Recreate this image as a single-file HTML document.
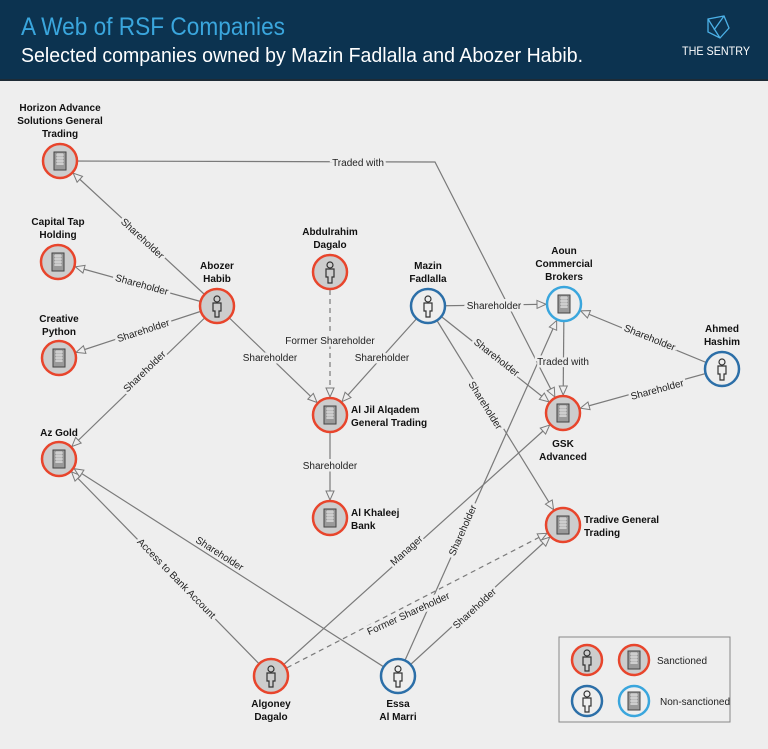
<!DOCTYPE html>
<html><head><meta charset="utf-8"><style>
html,body{margin:0;padding:0;background:#eeeeee;}
svg{display:block;}
.n{font-family:"Liberation Sans Narrow","Liberation Sans",sans-serif;font-weight:bold;font-size:10px;fill:#111;}
.l{font-family:"Liberation Sans Narrow","Liberation Sans",sans-serif;font-size:10px;fill:#222;stroke:#eeeeee;stroke-width:5px;paint-order:stroke;}
.e{stroke:#7a7a7a;stroke-width:1.2;fill:none;}
</style></head><body>
<svg width="768" height="749" viewBox="0 0 768 749" xmlns="http://www.w3.org/2000/svg">
<defs>
<marker id="a" markerUnits="userSpaceOnUse" markerWidth="12" markerHeight="10" refX="27" refY="4" orient="auto" viewBox="-1 -1 12 10" overflow="visible">
<path d="M0,0 L9,4 L0,8 z" fill="#eeeeee" stroke="#7a7a7a" stroke-width="1"/>
</marker>
<g id="per"><circle cx="0" cy="-8" r="3" fill="none" stroke="#333" stroke-width="1.2"/><path d="M-4,-4 h8 v8 h-2 v6 h-4 v-6 h-2 z" fill="none" stroke="#333" stroke-width="1.2"/></g>
<g id="bld"><rect x="-6" y="-9" width="12" height="18" fill="#9a9a9a" stroke="#444" stroke-width="1"/><path d="M-4,-6h8M-4,-3h8M-4,0h8M-4,3h8M-2,-8v12M0,-8v12M2,-8v12" stroke="#eee" stroke-width="0.8"/></g>
</defs>
<rect x="0" y="0" width="768" height="80" fill="#0c3350"/>
<rect x="0" y="79" width="768" height="2" fill="#1d2b36"/>
<text x="21" y="35" font-family="Liberation Sans Narrow,Liberation Sans,sans-serif" font-size="25" fill="#3aa6dd" textLength="264" lengthAdjust="spacingAndGlyphs">A Web of RSF Companies</text>
<text x="21" y="62" font-family="Liberation Sans Narrow,Liberation Sans,sans-serif" font-size="20" fill="#ffffff" textLength="562" lengthAdjust="spacingAndGlyphs">Selected companies owned by Mazin Fadlalla and Abozer Habib.</text>
<path d="M708,19 L724,16 L729,28 L720,38 L708,32 z M708,19 L720,38 M724,16 L714,30" fill="none" stroke="#4bb0e6" stroke-width="1.3"/>
<text x="716" y="55" text-anchor="middle" font-family="Liberation Sans Narrow,Liberation Sans,sans-serif" font-size="12" fill="#fff" textLength="68" lengthAdjust="spacingAndGlyphs">THE SENTRY</text>

<polyline class="e" points="60,161 435,162 563,413" marker-end="url(#a)"/>
<line class="e" x1="217" y1="306" x2="60" y2="161" marker-end="url(#a)"/>
<line class="e" x1="217" y1="306" x2="58" y2="262" marker-end="url(#a)"/>
<line class="e" x1="217" y1="306" x2="59" y2="358" marker-end="url(#a)"/>
<line class="e" x1="217" y1="306" x2="59" y2="459" marker-end="url(#a)"/>
<line class="e" x1="217" y1="306" x2="330" y2="415" marker-end="url(#a)"/>
<line class="e" x1="330" y1="272" x2="330" y2="415" stroke-dasharray="5,4" marker-end="url(#a)"/>
<line class="e" x1="428" y1="306" x2="330" y2="415" marker-end="url(#a)"/>
<line class="e" x1="428" y1="306" x2="564" y2="304" marker-end="url(#a)"/>
<line class="e" x1="428" y1="306" x2="563" y2="413" marker-end="url(#a)"/>
<line class="e" x1="428" y1="306" x2="563" y2="525" marker-end="url(#a)"/>
<line class="e" x1="564" y1="304" x2="563" y2="413" marker-end="url(#a)"/>
<line class="e" x1="722" y1="369" x2="564" y2="304" marker-end="url(#a)"/>
<line class="e" x1="722" y1="369" x2="563" y2="413" marker-end="url(#a)"/>
<line class="e" x1="330" y1="415" x2="330" y2="518" marker-end="url(#a)"/>
<line class="e" x1="271" y1="676" x2="59" y2="459" marker-end="url(#a)"/>
<line class="e" x1="398" y1="676" x2="59" y2="459" marker-end="url(#a)"/>
<line class="e" x1="271" y1="676" x2="563" y2="413" marker-end="url(#a)"/>
<line class="e" x1="398" y1="676" x2="564" y2="304" marker-end="url(#a)"/>
<line class="e" x1="271" y1="676" x2="563" y2="525" stroke-dasharray="5,4" marker-end="url(#a)"/>
<line class="e" x1="398" y1="676" x2="563" y2="525" marker-end="url(#a)"/>

<g class="l" text-anchor="middle">
<text x="358" y="166">Traded with</text>
<text transform="translate(143,238) rotate(42.7)" y="4">Shareholder</text>
<text transform="translate(142,284) rotate(15.5)" y="4">Shareholder</text>
<text transform="translate(143,330) rotate(-18)" y="4">Shareholder</text>
<text transform="translate(144,371) rotate(-44)" y="4">Shareholder</text>
<text x="270" y="361">Shareholder</text>
<text x="330" y="344">Former Shareholder</text>
<text x="382" y="361">Shareholder</text>
<text x="494" y="309">Shareholder</text>
<text transform="translate(497,357) rotate(38)" y="4">Shareholder</text>
<text transform="translate(486,405) rotate(58)" y="4">Shareholder</text>
<text x="563" y="365">Traded with</text>
<text transform="translate(650,337) rotate(22)" y="4">Shareholder</text>
<text transform="translate(657,389) rotate(-15)" y="4">Shareholder</text>
<text x="330" y="469">Shareholder</text>
<text transform="translate(177,578) rotate(45.7)" y="4">Access to Bank Account</text>
<text transform="translate(220,553) rotate(32.6)" y="4">Shareholder</text>
<text transform="translate(406,550) rotate(-42)" y="4">Manager</text>
<text transform="translate(462,530) rotate(-66)" y="4">Shareholder</text>
<text transform="translate(408,613) rotate(-24.6)" y="4">Former Shareholder</text>
<text transform="translate(474,608) rotate(-42.5)" y="4">Shareholder</text>
</g>

<g stroke-width="2.5">
<circle cx="60" cy="161" r="17" fill="#cdcdcd" stroke="#e8452c"/>
<circle cx="58" cy="262" r="17" fill="#cdcdcd" stroke="#e8452c"/>
<circle cx="59" cy="358" r="17" fill="#cdcdcd" stroke="#e8452c"/>
<circle cx="59" cy="459" r="17" fill="#cdcdcd" stroke="#e8452c"/>
<circle cx="217" cy="306" r="17" fill="#cdcdcd" stroke="#e8452c"/>
<circle cx="330" cy="272" r="17" fill="#cdcdcd" stroke="#e8452c"/>
<circle cx="428" cy="306" r="17" fill="#eeeeee" stroke="#2c6fa8"/>
<circle cx="564" cy="304" r="17" fill="#eeeeee" stroke="#3aa6dd"/>
<circle cx="722" cy="369" r="17" fill="#eeeeee" stroke="#2c6fa8"/>
<circle cx="330" cy="415" r="17" fill="#cdcdcd" stroke="#e8452c"/>
<circle cx="563" cy="413" r="17" fill="#cdcdcd" stroke="#e8452c"/>
<circle cx="330" cy="518" r="17" fill="#cdcdcd" stroke="#e8452c"/>
<circle cx="563" cy="525" r="17" fill="#cdcdcd" stroke="#e8452c"/>
<circle cx="271" cy="676" r="17" fill="#cdcdcd" stroke="#e8452c"/>
<circle cx="398" cy="676" r="17" fill="#eeeeee" stroke="#2c6fa8"/>
</g>
<use href="#bld" x="60" y="161"/><use href="#bld" x="58" y="262"/><use href="#bld" x="59" y="358"/><use href="#bld" x="59" y="459"/>
<use href="#per" x="217" y="307"/><use href="#per" x="330" y="273"/><use href="#per" x="428" y="307"/>
<use href="#bld" x="564" y="304"/><use href="#per" x="722" y="370"/><use href="#bld" x="330" y="415"/>
<use href="#bld" x="563" y="413"/><use href="#bld" x="330" y="518"/><use href="#bld" x="563" y="525"/>
<use href="#per" x="271" y="677"/><use href="#per" x="398" y="677"/>

<g class="n" text-anchor="middle">
<text x="60" y="111">Horizon Advance</text><text x="60" y="124">Solutions General</text><text x="60" y="137">Trading</text>
<text x="58" y="225">Capital Tap</text><text x="58" y="238">Holding</text>
<text x="59" y="322">Creative</text><text x="59" y="335">Python</text>
<text x="59" y="436">Az Gold</text>
<text x="217" y="269">Abozer</text><text x="217" y="282">Habib</text>
<text x="330" y="235">Abdulrahim</text><text x="330" y="248">Dagalo</text>
<text x="428" y="269">Mazin</text><text x="428" y="282">Fadlalla</text>
<text x="564" y="254">Aoun</text><text x="564" y="267">Commercial</text><text x="564" y="280">Brokers</text>
<text x="722" y="332">Ahmed</text><text x="722" y="345">Hashim</text>
<text x="563" y="447">GSK</text><text x="563" y="460">Advanced</text>
<text x="271" y="707">Algoney</text><text x="271" y="720">Dagalo</text>
<text x="398" y="707">Essa</text><text x="398" y="720">Al Marri</text>
</g>
<g class="n">
<text x="351" y="413">Al Jil Alqadem</text><text x="351" y="426">General Trading</text>
<text x="351" y="516">Al Khaleej</text><text x="351" y="529">Bank</text>
<text x="584" y="523">Tradive General</text><text x="584" y="536">Trading</text>
</g>

<rect x="559" y="637" width="171" height="85" fill="#eeeeee" stroke="#888" stroke-width="1"/>
<g stroke-width="2.5">
<circle cx="587" cy="660" r="15" fill="#cdcdcd" stroke="#e8452c"/>
<circle cx="634" cy="660" r="15" fill="#cdcdcd" stroke="#e8452c"/>
<circle cx="587" cy="701" r="15" fill="#eeeeee" stroke="#2c6fa8"/>
<circle cx="634" cy="701" r="15" fill="#eeeeee" stroke="#3aa6dd"/>
</g>
<use href="#per" x="587" y="661"/><use href="#bld" x="634" y="660"/><use href="#per" x="587" y="702"/><use href="#bld" x="634" y="701"/>
<text x="657" y="664" font-family="Liberation Sans Narrow,Liberation Sans,sans-serif" font-size="10" fill="#222">Sanctioned</text>
<text x="660" y="705" font-family="Liberation Sans Narrow,Liberation Sans,sans-serif" font-size="10" fill="#222">Non-sanctioned</text>
</svg>
</body></html>
